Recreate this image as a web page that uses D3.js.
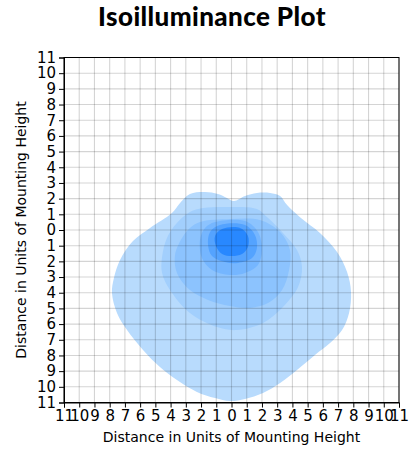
<!DOCTYPE html>
<html>
<head>
<meta charset="utf-8">
<script src="https://cdn.jsdelivr.net/npm/d3@7"></script>
<style>
    body { margin: 0; background: #fff; }
    svg { display: block; }
    .tick text { font-family: "DejaVu Sans", sans-serif; font-size: 15px; fill: #000; }
</style>
</head>
<body>
<div id="chart"></div>
<script>
// contour bands, outermost first, [x, y] in mounting-height units
const level1 = [
    [0.16, 1.85], [0.89, 2.17], [1.67, 2.36], [2.53, 2.36], [3.19, 2.17], [3.65, 1.59],
    [4.5, 0.82], [5.81, -0.19], [6.93, -1.4], [7.59, -2.68], [7.85, -3.95], [7.72, -5.29],
    [7.26, -6.38], [6.47, -7.21], [5.48, -7.97], [4.3, -8.93], [3.19, -9.76], [2.07, -10.4],
    [0.89, -10.78], [-0.1, -10.91], [-1.08, -10.72], [-2.27, -10.33], [-3.58, -9.57],
    [-4.7, -8.74], [-5.81, -7.65], [-6.86, -6.38], [-7.52, -5.29], [-7.85, -4.02],
    [-7.72, -3.06], [-7.32, -1.91], [-6.47, -0.7], [-5.35, 0.13], [-3.91, 1.08],
    [-3.38, 1.72], [-2.73, 2.29], [-1.74, 2.42], [-0.89, 2.29], [-0.3, 2.04]
];
const level2 = [
    [-1.87, 1.4], [-0.1, 1.47], [1.67, 1.34], [2.33, 0.83], [3.38, -0.19], [4.3, -1.28],
    [4.63, -2.36], [4.37, -3.64], [3.38, -4.91], [2.07, -5.93], [0.36, -6.38], [-0.95, -6.19],
    [-2.73, -5.29], [-4.04, -3.83], [-4.56, -2.74], [-4.56, -1.72], [-4.24, -0.51],
    [-3.6, 0.43], [-2.73, 1.15]
];
const level3 = [
    [-2.07, 0.51], [-0.1, 0.7], [1.87, 0.64], [3.19, -0.13], [3.84, -1.28], [3.78, -2.55],
    [3.32, -3.83], [2.4, -4.66], [1.21, -4.97], [-0.1, -4.85], [-1.54, -4.46], [-2.73, -3.83],
    [-3.58, -2.74], [-3.71, -1.59], [-3.25, -0.51], [-2.73, 0.13]
];
const level4 = [
    [-1.08, 0.51], [0.89, 0.57], [1.74, -0.13], [2.0, -1.28], [1.74, -2.23], [0.89, -2.74],
    [-0.1, -2.87], [-1.28, -2.55], [-1.94, -1.79], [-2.07, -0.64], [-1.74, 0.13]
];
const level5 = [
    [-0.76, 0.32], [0.89, 0.32], [1.54, -0.32], [1.67, -1.15], [1.35, -1.79], [0.43, -2.1],
    [-0.43, -2.04], [-1.28, -1.66], [-1.54, -0.96], [-1.41, -0.13]
];
const level6 = [
    [-0.62, 0.06], [0.56, 0.13], [1.08, -0.38], [1.08, -1.08], [0.69, -1.53], [0.03, -1.66],
    [-0.62, -1.53], [-1.02, -1.02], [-1.08, -0.38]
];
const levels = [level1, level2, level3, level4, level5, level6];
const colors = ["#b8dbfd", "#a2cffd", "#8cc3fe", "#75b6ff", "#54a3ff", "#2888ff"];
const ticks = d3.range(-11, 12);

const width = 414;
const height = 450;
const margin = { top: 57.5, right: 15, bottom: 47.5, left: 64 };

const svg = d3
    .select("#chart")
    .append("svg")
    .attr("width", width)
    .attr("height", height);

const xScale = d3
    .scaleLinear()
    .domain([-11, 11])
    .range([margin.left, width - margin.right]);

const yScale = d3
    .scaleLinear()
    .domain([-11, 11])
    .range([height - margin.bottom, margin.top]);

const line = d3
    .line()
    .x(d => xScale(d[0]))
    .y(d => yScale(d[1]))
    .curve(d3.curveCatmullRomClosed.alpha(0.5));

svg.append("g")
    .selectAll("path")
    .data(levels)
    .enter()
    .append("path")
    .attr("d", d => line(d))
    .attr("fill", (d, i) => colors[i]);

// grid
const grid = svg.append("g")
    .attr("stroke", "#000")
    .attr("stroke-opacity", 0.17)
    .attr("stroke-width", 1.1);
grid.selectAll(".gx")
    .data(ticks)
    .enter()
    .append("line")
    .attr("x1", d => xScale(d))
    .attr("x2", d => xScale(d))
    .attr("y1", yScale(-11))
    .attr("y2", yScale(11));
grid.selectAll(".gy")
    .data(ticks)
    .enter()
    .append("line")
    .attr("x1", xScale(-11))
    .attr("x2", xScale(11))
    .attr("y1", d => yScale(d))
    .attr("y2", d => yScale(d));

const xAxis = d3.axisBottom(xScale).tickValues(ticks).tickFormat(d => Math.abs(d)).tickSize(5).tickPadding(3);
const yAxis = d3.axisLeft(yScale).tickValues(ticks).tickFormat(d => Math.abs(d)).tickSize(5).tickPadding(3);

svg.append("g")
    .attr("transform", `translate(0, ${yScale(-11)})`)
    .call(xAxis);

svg.append("g")
    .attr("transform", `translate(${xScale(-11)}, 0)`)
    .call(yAxis);

svg.selectAll(".domain").attr("stroke", "#000");

// frame
svg.append("rect")
    .attr("x", xScale(-11))
    .attr("y", yScale(11))
    .attr("width", xScale(11) - xScale(-11))
    .attr("height", yScale(-11) - yScale(11))
    .attr("fill", "none")
    .attr("stroke", "#000");

svg.append("text")
    .attr("x", (xScale(-11) + xScale(11)) / 2)
    .attr("y", 442)
    .attr("text-anchor", "middle")
    .style("font-family", "DejaVu Sans, sans-serif")
    .style("font-size", "14px")
    .text("Distance in Units of Mounting Height");

svg.append("text")
    .attr("transform", `translate(26, ${yScale(0)}) rotate(-90)`)
    .attr("text-anchor", "middle")
    .style("font-family", "DejaVu Sans, sans-serif")
    .style("font-size", "14px")
    .text("Distance in Units of Mounting Height");

svg.append("text")
    .attr("x", 212)
    .attr("y", 26)
    .attr("text-anchor", "middle")
    .style("font-family", "Lato, sans-serif")
    .style("font-weight", 900)
    .style("font-size", "26px")
    .style("letter-spacing", "0.4px")
    .text("Isoilluminance Plot");
</script>
</body>
</html>
